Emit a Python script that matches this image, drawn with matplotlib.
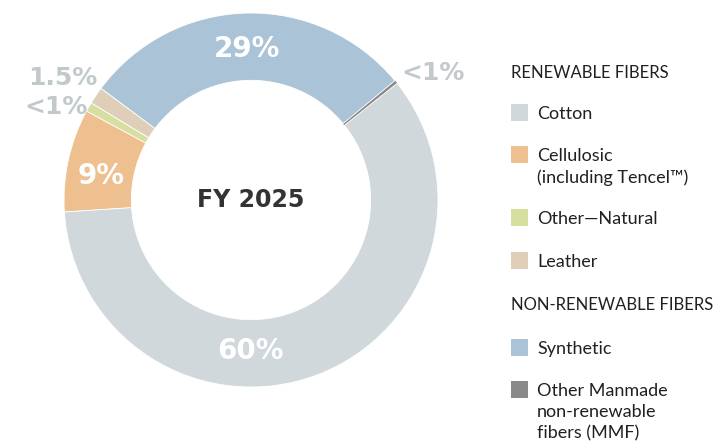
import numpy as np
import matplotlib
matplotlib.use("Agg")
import matplotlib.pyplot as plt
from matplotlib.patches import Rectangle

plt.rcParams['font.family'] = ['Lato', 'DejaVu Sans']

# data (share of fibers, %)
categories = ["Cotton", "Cellulosic", "Other\u2014Natural", "Leather", "Synthetic", "Other MMF"]
shares = [59.7, 8.9, 0.8, 1.5, 28.8, 0.3]
labels = ["60%", "9%", "<1%", "1.5%", "29%", "<1%"]
colors = ["#d0d8dc", "#eebf8f", "#d6dea0", "#dfcfb8", "#aac3d6", "#8a8a8a"]

# order the ring goes counter-clockwise, starting at the MMF sliver
ring_order = [5, 4, 3, 2, 1, 0]

W, H = 719, 444
fig = plt.figure(figsize=(W / 100, H / 100), dpi=100)

cx, cy, r = 251, 200, 187
ax = fig.add_axes([(cx - r) / W, (H - cy - r) / H, 2 * r / W, 2 * r / H])
wedges, _ = ax.pie([shares[i] for i in ring_order],
                   colors=[colors[i] for i in ring_order],
                   startangle=38.6, counterclock=True, radius=1,
                   wedgeprops=dict(width=0.36, edgecolor="white", linewidth=0.6))
# keep the MMF sliver dark, no white edge
wedges[0].set_edgecolor(colors[5])
wedges[0].set_linewidth(0.3)
ax.set_xlim(-1, 1)
ax.set_ylim(-1, 1)
ax.set_aspect("equal")
ax.axis("off")

num_font = dict(family="DejaVu Sans", fontweight="bold")

# labels inside the big wedges (angle where the label sits)
inside = {0: 270, 1: 171, 4: 91.5}
for i, a in inside.items():
    ang = np.deg2rad(a)
    ax.text(0.81 * np.cos(ang), 0.81 * np.sin(ang), labels[i], ha="center", va="center",
            color="white", fontsize=20, **num_font)

# small wedges labelled outside
grey = "#c1c9cd"
ax.text(-1.005, 0.655, labels[3], ha="center", va="center", color=grey, fontsize=18, **num_font)
ax.text(-1.045, 0.50, labels[2], ha="center", va="center", color=grey, fontsize=18, **num_font)
ax.text(0.975, 0.68, labels[5], ha="center", va="center", color=grey, fontsize=18, **num_font)

ax.text(0, 0, "FY 2025", ha="center", va="center", color="#333333", fontsize=17, **num_font)

# legend drawn in pixel coordinates
lg = fig.add_axes([0, 0, 1, 1])
lg.set_xlim(0, W)
lg.set_ylim(H, 0)
lg.axis("off")

txt = "#231f20"
lg.text(511, 73, "RENEWABLE FIBERS", ha="left", va="center", fontsize=12, color=txt)
lg.text(511, 305, "NON-RENEWABLE FIBERS", ha="left", va="center", fontsize=12, color=txt)

legend_text = ["Cotton", "Cellulosic\n(including Tencel\u2122)", "Other\u2014Natural", "Leather",
               "Synthetic", "Other Manmade\nnon-renewable\nfibers (MMF)"]
legend_y = [112, 154, 217, 260, 347, 389]
for i in range(len(categories)):
    y = legend_y[i]
    lg.add_patch(Rectangle((511, y - 8), 17, 17, color=colors[i], lw=0))
    lg.text(537, y - 6, legend_text[i], ha="left", va="top", fontsize=13, color=txt,
            linespacing=1.4)

fig.savefig("out.png", dpi=100)
